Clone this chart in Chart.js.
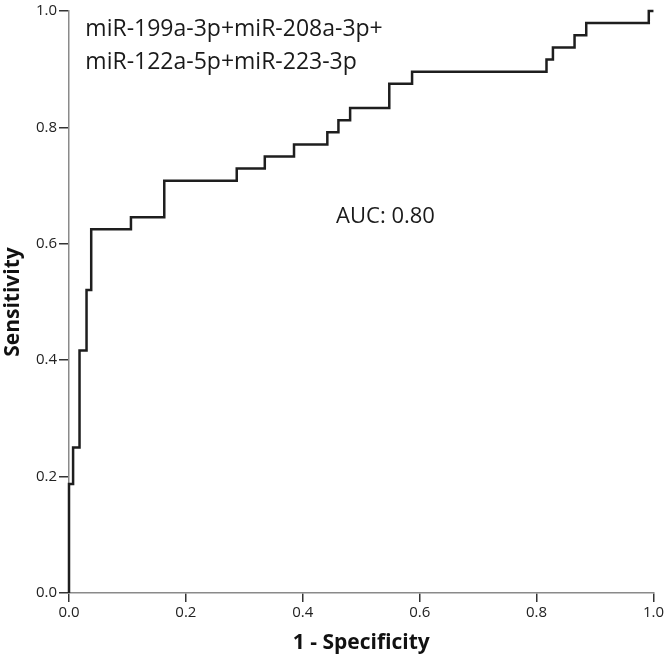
<!DOCTYPE html>
<html lang="en">
<head>
<meta charset="UTF-8">
<title>ROC</title>
<script src="https://cdn.jsdelivr.net/npm/chart.js"></script>
<style>
  html, body { margin: 0; padding: 0; background: #fff; }
  #wrap { width: 666px; height: 656px; }
</style>
</head>
<body>
<div id="wrap"><canvas id="roc"></canvas></div>
<script>
// ROC points (1 - specificity, sensitivity)
var fpr = [0, 0, 0.007, 0.018, 0.030, 0.038, 0.106, 0.163, 0.287, 0.335, 0.385, 0.442, 0.461, 0.481,
           0.548, 0.587, 0.817, 0.828, 0.865, 0.885, 0.992, 1.0];
var tpr = [0, 0.1875, 0.25, 0.4167, 0.5208, 0.625, 0.6458, 0.7083, 0.7292, 0.75, 0.7708, 0.7917, 0.8125, 0.8333,
           0.875, 0.8958, 0.9167, 0.9375, 0.9583, 0.9792, 1.0, 1.0];
var yTicks = [0, 0.2, 0.4, 0.6, 0.8, 1.0];
var xTicks = [0, 0.2, 0.4, 0.6, 0.8, 1.0];
var labelLines = ['miR-199a-3p+miR-208a-3p+', 'miR-122a-5p+miR-223-3p'];
var aucText = 'AUC: 0.80';

var punti = [];
for (var i = 0; i < fpr.length; i++) {
    punti.push({ x: fpr[i], y: tpr[i] });
}

var testi = {
    id: 'testi',
    afterDraw: function (chart) {
        var ctx = chart.ctx;
        var sx = chart.scales.x, sy = chart.scales.y;
        ctx.save();
        ctx.fillStyle = '#1a1a1a';
        ctx.textAlign = 'left';
        ctx.textBaseline = 'alphabetic';
        ctx.font = '23px "Open Sans"';
        ctx.fillText(labelLines[0], sx.getPixelForValue(0.028), sy.getPixelForValue(0.957));
        ctx.fillText(labelLines[1], sx.getPixelForValue(0.028), sy.getPixelForValue(0.901));
        ctx.font = '22px "Open Sans"';
        ctx.fillText(aucText, sx.getPixelForValue(0.457), sy.getPixelForValue(0.635));
        ctx.restore();
    }
};

var ctx = document.getElementById('roc').getContext('2d');
new Chart(ctx, {
    type: 'line',
    data: {
        datasets: [{
            data: punti,
            stepped: 'before',
            borderColor: '#1e1e1e',
            borderWidth: 2.5,
            pointRadius: 0,
            fill: false,
            clip: false
        }]
    },
    options: {
        responsive: true,
        maintainAspectRatio: false,
        animation: false,
        layout: { padding: { left: 0, right: 12, top: 6, bottom: 0 } },
        plugins: { legend: { display: false }, tooltip: { enabled: false } },
        scales: {
            x: {
                type: 'linear',
                min: 0, max: 1,
                afterBuildTicks: function (s) { s.ticks = xTicks.map(function (v) { return { value: v }; }); },
                afterFit: function (s) { s.height = 63; },
                ticks: {
                    color: '#222',
                    font: { family: 'Open Sans', size: 15 },
                    padding: 2,
                    maxRotation: 0,
                    callback: function (v) { return v.toFixed(1); }
                },
                grid: { drawOnChartArea: false, drawTicks: true, tickLength: 9, color: '#333', lineWidth: 1.5 },
                border: { color: '#8a8a8a', width: 1.5 },
                title: {
                    display: true,
                    text: '1 - Specificity',
                    color: '#111',
                    font: { family: 'Open Sans', size: 21, weight: 'bold' },
                    padding: { top: 2, bottom: 0 }
                }
            },
            y: {
                type: 'linear',
                min: 0, max: 1,
                afterBuildTicks: function (s) { s.ticks = yTicks.map(function (v) { return { value: v }; }); },
                afterFit: function (s) { s.width = 69; },
                ticks: {
                    color: '#222',
                    font: { family: 'Open Sans', size: 15 },
                    padding: 2,
                    callback: function (v) { return v.toFixed(1); }
                },
                grid: { drawOnChartArea: false, drawTicks: true, tickLength: 10, color: '#333', lineWidth: 1.5 },
                border: { color: '#8a8a8a', width: 1.5 },
                title: {
                    display: true,
                    text: 'Sensitivity',
                    color: '#111',
                    font: { family: 'Open Sans', size: 21, weight: 'bold' },
                    padding: { top: 0, bottom: 2 }
                }
            }
        }
    },
    plugins: [testi]
});
</script>
</body>
</html>
